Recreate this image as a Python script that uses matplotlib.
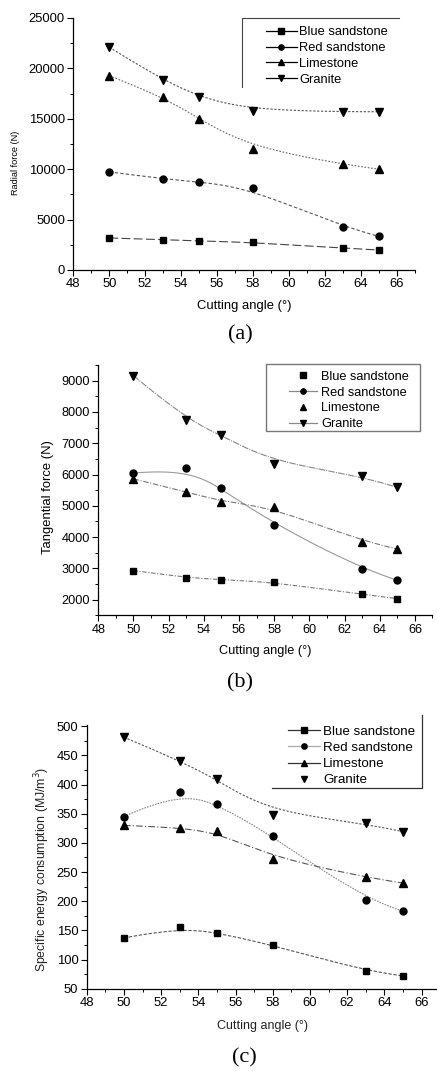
"""
Cutting angle vs radial force, tangential force and specific energy
for four rock types - three stacked panels (a), (b), (c).
"""

import numpy as np
import matplotlib.pyplot as plt
from matplotlib.lines import Line2D
from matplotlib.patches import Rectangle
from matplotlib.ticker import MultipleLocator

plt.rcParams["font.family"] = ["Liberation Sans", "DejaVu Sans"]

# -----------------------------------------------------------------------------
# Data
# -----------------------------------------------------------------------------
angle = [50, 53, 55, 58, 63, 65]
rocks = ["Blue sandstone", "Red sandstone", "Limestone", "Granite"]

radial_blue = [3180, 3010, 2880, 2750, 2150, 1990]
radial_red = [9730, 9040, 8740, 8110, 4270, 3340]
radial_lime = [19270, 17200, 14970, 12000, 10500, 10000]
radial_granite = [22100, 18800, 17150, 15800, 15700, 15700]

tang_blue = [2930, 2700, 2640, 2565, 2170, 2030]
tang_red = [6045, 6195, 5555, 4390, 2980, 2620]
tang_lime = [5860, 5445, 5115, 4975, 3855, 3620]
tang_granite = [9160, 7750, 7270, 6330, 5960, 5585]

sec_blue = [137, 155, 146, 125, 80, 72]
sec_red = [345, 388, 367, 312, 202, 183]
sec_lime = [330, 326, 320, 273, 241, 231]
sec_granite = [481, 441, 409, 348, 334, 319]

MARKERS = ["s", "o", "^", "v"]
MSIZE = [4.5, 5, 5.5, 5.5]
W, H = 437, 1071


def bspline(x, y, n=200, k=3):
    """Clamped cubic B-spline using the points as control points (Origin style)."""
    P = np.column_stack([x, y]).astype(float)
    m = len(P)
    knots = np.concatenate([np.zeros(k), np.linspace(0, 1, m - k + 1), np.ones(k)])
    t = np.linspace(0, 1, n)
    t[-1] -= 1e-9

    def basis(i, d):
        if d == 0:
            return ((knots[i] <= t) & (t < knots[i + 1])).astype(float)
        out = np.zeros_like(t)
        den = knots[i + d] - knots[i]
        if den > 0:
            out += (t - knots[i]) / den * basis(i, d - 1)
        den = knots[i + d + 1] - knots[i + 1]
        if den > 0:
            out += (knots[i + d + 1] - t) / den * basis(i + 1, d - 1)
        return out

    B = np.column_stack([basis(i, k) for i in range(m)])
    C = B @ P
    return C[:, 0], C[:, 1]


def px_rect(left, top, right, bottom):
    """Axes rectangle from pixel edges of the reference image."""
    return [left / W, 1 - bottom / H, (right - left) / W, (bottom - top) / H]


def style_axes(ax, xmax, ylim, ymaj, ymin, fs):
    ax.set_xlim(48, xmax)
    ax.set_ylim(*ylim)
    ax.xaxis.set_major_locator(MultipleLocator(2))
    ax.xaxis.set_minor_locator(MultipleLocator(1))
    ax.yaxis.set_major_locator(MultipleLocator(ymaj))
    ax.yaxis.set_minor_locator(MultipleLocator(ymin))
    ax.spines["top"].set_visible(False)
    ax.spines["right"].set_visible(False)
    for s in ("left", "bottom"):
        ax.spines[s].set_linewidth(0.9)
    ax.tick_params(which="major", direction="out", length=4, width=0.8,
                   labelsize=fs, pad=2)
    ax.tick_params(which="minor", direction="out", length=2.5, width=0.7)


def draw_series(ax, series, styles):
    for i, (vals, (color, ls)) in enumerate(zip(series, styles)):
        xs, ys = bspline(angle, vals)
        ax.plot(xs, ys, color=color, linestyle=ls, linewidth=0.8, zorder=2)
        ax.plot(angle, vals, linestyle="none", marker=MARKERS[i],
                markersize=MSIZE[i], color="black", zorder=3)


def legend_handles(line_colors):
    handles = []
    for i, c in enumerate(line_colors):
        handles.append(Line2D([0], [0], color=c if c else "none", linewidth=0.9,
                              marker=MARKERS[i], markersize=3.8,
                              markerfacecolor="black", markeredgecolor="black"))
    return handles


fig = plt.figure(figsize=(W / 100, H / 100), dpi=100)

# ---------------------------------------------------------------- panel (a)
ax1 = fig.add_axes(px_rect(73.3, 18, 414.7, 270))
draw_series(ax1, [radial_blue, radial_red, radial_lime, radial_granite],
            [("#444444", (0, (8, 3))), ("#555555", (0, (3, 2))),
             ("#666666", (0, (1.5, 1.5))), ("#555555", (0, (2, 1.5)))])
style_axes(ax1, 67, (0, 25000), 5000, 2500, 9.4)
ax1.set_xlabel("Cutting angle (°)", fontsize=9.4, va="center")
ax1.xaxis.set_label_coords(0.5, -0.143)
ax1.set_ylabel("Radial force (N)", fontsize=6.6, va="center")
ax1.yaxis.set_label_coords(-0.168, 0.425)
ax1.legend(legend_handles(["black"] * 4), rocks, loc="upper left",
           bbox_to_anchor=(0.563, 0.967), frameon=False, fontsize=9.3,
           borderpad=0, borderaxespad=0, handlelength=2.4, handletextpad=0.2,
           labelspacing=0.29)
ax1.plot([0.495, 0.495, 0.955], [0.726, 1.0, 1.0], color="#444444",
         linewidth=0.8, transform=ax1.transAxes, clip_on=False)

# ---------------------------------------------------------------- panel (b)
ax2 = fig.add_axes(px_rect(98.3, 365, 432.5, 615.3))
draw_series(ax2, [tang_blue, tang_red, tang_lime, tang_granite],
            [("#777777", (0, (4, 1.5, 1, 1.5))), ("#999999", "-"),
             ("#777777", (0, (5, 1.5, 1, 1.5))), ("#888888", (0, (6, 1, 1, 1)))])
style_axes(ax2, 67, (1500, 9500), 1000, 500, 9.2)
ax2.set_xlabel("Cutting angle (°)", fontsize=9.2, va="center")
ax2.xaxis.set_label_coords(0.5, -0.143)
ax2.set_ylabel("Tangential force (N)", fontsize=9.4, va="center")
ax2.yaxis.set_label_coords(-0.1505, 0.473)
ax2.legend(legend_handles([None, "#888888", None, "#888888"]), rocks,
           loc="upper left", bbox_to_anchor=(0.57, 0.977), frameon=False,
           fontsize=9.2, borderpad=0, borderaxespad=0, handlelength=2.2,
           handletextpad=0.35, labelspacing=0.3)
ax2.add_patch(Rectangle((0.502, 0.736), 0.461, 0.268, transform=ax2.transAxes,
                        fill=False, edgecolor="#777777", linewidth=1.0,
                        clip_on=False))

# ---------------------------------------------------------------- panel (c)
ax3 = fig.add_axes(px_rect(86.7, 725, 436.4, 988.7))
draw_series(ax3, [sec_blue, sec_red, sec_lime, sec_granite],
            [("#555555", (0, (3, 1.5))), ("#888888", (0, (1.5, 1))),
             ("#555555", (0, (6, 2, 1, 2))), ("#555555", (0, (2, 1.5)))])
style_axes(ax3, 66.8, (50, 502), 50, 25, 9.4)
ax3.set_xlabel("Cutting angle (°)", fontsize=9.0, va="center", color="#222222")
ax3.xaxis.set_label_coords(0.504, -0.141)
ax3.set_ylabel("Specific energy consumption (MJ/m$^3$)", fontsize=8.8,
               va="center", color="#222222")
ax3.yaxis.set_label_coords(-0.128, 0.454)
ax3.legend(legend_handles(["#333333", "#aaaaaa", "#333333", None]), rocks,
           loc="upper left", bbox_to_anchor=(0.575, 0.998), frameon=False,
           fontsize=9.6, borderpad=0, borderaxespad=0, handlelength=2.4,
           handletextpad=0.25, labelspacing=0.29)
ax3.plot([0.530, 0.959, 0.959], [0.761, 0.761, 1.038], color="#333333",
         linewidth=0.9, transform=ax3.transAxes, clip_on=False)

# ---------------------------------------------------------------- captions
for label, (cx, cy) in zip(["(a)", "(b)", "(c)"],
                           [(240, 335), (240, 683), (244, 1058)]):
    fig.text(cx / W, 1 - cy / H, label, family="Liberation Serif", fontsize=16,
             ha="center", va="center")

fig.savefig("out.png", dpi=100)
